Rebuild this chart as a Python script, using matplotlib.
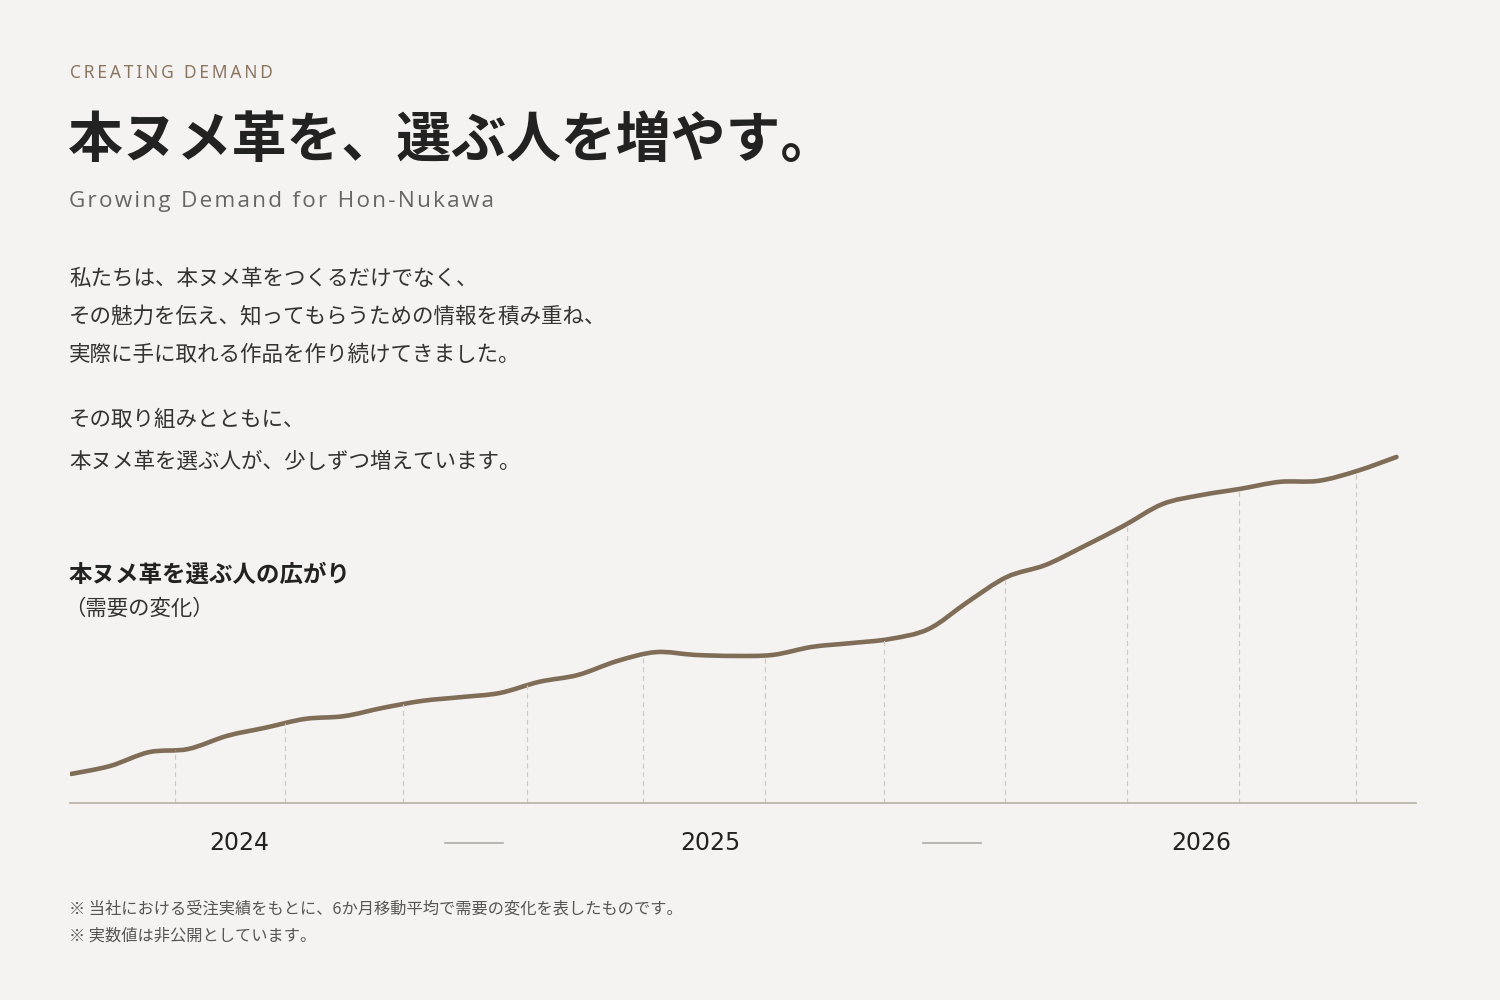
import numpy as np
import matplotlib
matplotlib.use("Agg")
import matplotlib.pyplot as plt
from matplotlib.path import Path
from matplotlib.patches import PathPatch
from matplotlib.transforms import blended_transform_factory

plt.rcParams['font.family'] = ['Noto Sans CJK JP', 'DejaVu Sans']

# demand index (hidden scale), one value per month
months = list(range(35))
demand = [8.4, 10.7, 14.7, 15.6, 19.4, 21.8, 24.3, 25.1, 27.5, 29.5,
          30.6, 31.8, 35.0, 37.0, 41.0, 43.6, 42.8, 42.5, 42.8, 45.1,
          46.2, 47.4, 50.3, 58.1, 65.3, 68.8, 74.3, 80.1, 86.4, 89.0,
          90.8, 92.8, 93.1, 96.0, 100.0]

# dashed guide positions (months)
guides = [2.67, 5.49, 8.51, 11.69, 14.67, 17.79, 20.85, 23.95, 27.08, 29.95, 32.95]

years = ['2024', '2025', '2026']
year_pos = [4.3, 16.4, 29.0]
sep_pos = [10.33, 22.6]

bg = '#f5f3f1'
line_c = '#7f6d58'

def spaced(s, sep='\u2009'):
    return sep.join(s)

fig = plt.figure(figsize=(15, 10), dpi=100, facecolor=bg)

fig.text(0.047, 1 - 73/1000, spaced('CREATING DEMAND'), fontsize=12.5, color='#8a7560',
         va='center', ha='left', fontfamily=['Noto Sans', 'DejaVu Sans'])
fig.text(0.045, 1 - 140/1000, '本ヌメ革を、選ぶ人を増やす。', fontsize=39.5, color='#222222',
         fontweight='bold', va='center', ha='left')
fig.text(0.046, 1 - 202/1000, spaced('Growing Demand for Hon-Nukawa', '\u200a'), fontsize=16.2,
         color='#666666', va='center', ha='left', fontfamily=['Open Sans', 'DejaVu Sans'])

body = ['私たちは、本ヌメ革をつくるだけでなく、',
        'その魅力を伝え、知ってもらうための情報を積み重ね、',
        '実際に手に取れる作品を作り続けてきました。']
for i, s in enumerate(body):
    fig.text(0.046, 1 - (279 + 38*i)/1000, s, fontsize=15.5, color='#333333', va='center')
body2 = ['その取り組みとともに、', '本ヌメ革を選ぶ人が、少しずつ増えています。']
for i, s in enumerate(body2):
    fig.text(0.046, 1 - (420 + 42*i)/1000, s, fontsize=15.5, color='#333333', va='center')

fig.text(0.046, 1 - 575/1000, '本ヌメ革を選ぶ人の広がり', fontsize=16.9, color='#222222',
         fontweight='bold', va='center')
fig.text(0.043, 1 - 609/1000, '（需要の変化）', fontsize=15.4, color='#333333', va='center')

notes = ['※ 当社における受注実績をもとに、6か月移動平均で需要の変化を表したものです。',
         '※ 実数値は非公開としています。']
for i, s in enumerate(notes):
    fig.text(0.046, 1 - (909 + 27*i)/1000, s, fontsize=11.7, color='#555555', va='center')

ax = fig.add_axes([70/1500, 1 - 803/1000, (1416-70)/1500, (803-440)/1000])
ax.set_facecolor(bg)
ax.set_xlim(-0.03, 34.5)
ax.set_ylim(0, 104.9)
for sp in ['top', 'right', 'left']:
    ax.spines[sp].set_visible(False)
ax.spines['bottom'].set_color('#b8b0a8')
ax.spines['bottom'].set_linewidth(1.2)
ax.set_xticks([])
ax.set_yticks([])

# guides stop at the curve
tops = np.interp(guides, months, demand)
ax.vlines(guides, 0, tops, colors='#cfcac5', linewidth=0.9, linestyles=(0, (4, 3)))

# smooth line through the monthly values (Catmull-Rom as cubic Bezier)
x = np.array(months, dtype=float)
y = np.array(demand)
verts = [(x[0], y[0])]
codes = [Path.MOVETO]
n = len(x)
for i in range(n - 1):
    x0, y0 = (x[i-1], y[i-1]) if i > 0 else (x[i], y[i])
    x3, y3 = (x[i+2], y[i+2]) if i + 2 < n else (x[i+1], y[i+1])
    c1 = (x[i] + (x[i+1] - x0)/6, y[i] + (y[i+1] - y0)/6)
    c2 = (x[i+1] - (x3 - x[i])/6, y[i+1] - (y3 - y[i])/6)
    verts += [c1, c2, (x[i+1], y[i+1])]
    codes += [Path.CURVE4]*3
ax.add_patch(PathPatch(Path(verts, codes), facecolor='none', edgecolor=line_c,
                       linewidth=3.3, capstyle='round', joinstyle='round'))

tr = blended_transform_factory(ax.transData, fig.transFigure)
for yr, p in zip(years, year_pos):
    ax.text(p, 1 - 843/1000, yr, transform=tr, ha='center', va='center',
            fontsize=17, color='#222222', fontfamily=['DejaVu Sans'])
for p in sep_pos:
    ax.plot([p - 0.74, p + 0.74], [1 - 843/1000]*2, transform=tr, color='#b0aaa4',
            linewidth=1.2, clip_on=False)

fig.savefig('out.png', dpi=100, facecolor=bg)
